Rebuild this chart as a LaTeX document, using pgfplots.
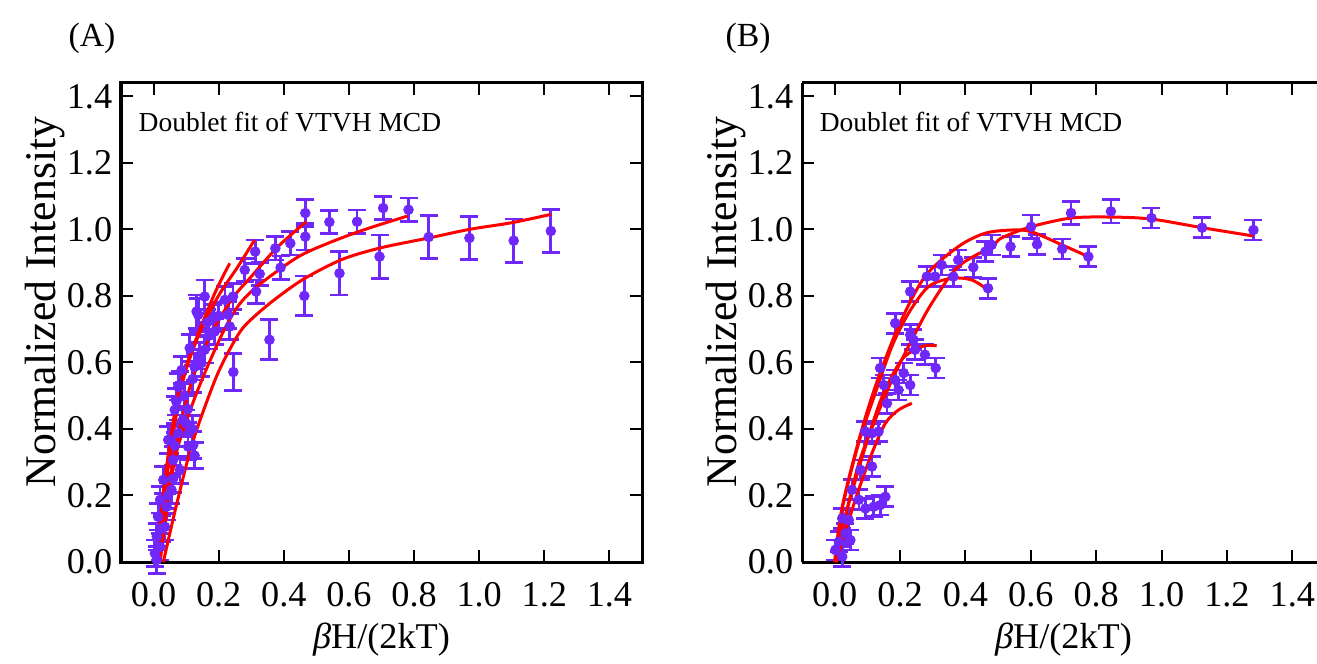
\documentclass[border=0pt]{standalone}
\usepackage{fontspec}
\setmainfont{Liberation Serif}
\usepackage{pgfplots}
\usepackage{pgfplotstable}
\pgfplotsset{compat=1.18}
\definecolor{ptscol}{RGB}{112,40,250}
\definecolor{fitred}{RGB}{255,0,0}

\pgfplotstableread{
x y e
0.466 1.049 0.040
0.466 0.978 0.040
0.540 1.022 0.035
0.625 1.023 0.035
0.705 1.064 0.035
0.783 1.059 0.035
0.845 0.977 0.065
0.970 0.974 0.065
1.106 0.966 0.065
1.220 0.995 0.065
0.694 0.918 0.065
0.571 0.868 0.065
0.463 0.800 0.060
0.374 0.943 0.035
0.420 0.958 0.035
0.390 0.885 0.035
0.312 0.933 0.035
0.326 0.866 0.035
0.315 0.813 0.035
0.280 0.878 0.035
0.356 0.668 0.060
0.245 0.571 0.055
0.244 0.798 0.040
0.219 0.788 0.040
0.157 0.798 0.050
0.137 0.743 0.050
0.132 0.753 0.050
0.183 0.733 0.040
0.229 0.743 0.040
0.234 0.708 0.040
0.188 0.693 0.040
0.111 0.643 0.040
0.157 0.638 0.040
0.147 0.598 0.040
0.086 0.577 0.040
0.126 0.587 0.040
0.081 0.532 0.040
0.076 0.527 0.040
0.070 0.482 0.040
0.065 0.457 0.040
0.090 0.427 0.040
0.100 0.417 0.040
0.076 0.387 0.040
0.050 0.367 0.040
0.045 0.367 0.040
0.106 0.347 0.040
0.122 0.352 0.040
0.060 0.307 0.040
0.081 0.277 0.040
0.030 0.247 0.040
0.055 0.217 0.040
0.020 0.187 0.040
0.040 0.166 0.040
0.014 0.136 0.040
0.035 0.106 0.040
0.010 0.076 0.040
0.020 0.046 0.040
0.004 0.026 0.040
0.010 0.006 0.040
0.095 0.500 0.040
0.120 0.550 0.040
0.170 0.680 0.040
0.200 0.740 0.040
0.165 0.720 0.040
0.105 0.460 0.040
0.140 0.620 0.040
0.060 0.250 0.040
0.025 0.100 0.040
0.045 0.200 0.040
0.065 0.350 0.040
0.126 0.320 0.040
0.120 0.400 0.040
}\ptsA

\pgfplotstableread{
x y e
0.538 0.948 0.030
0.601 1.008 0.035
0.619 0.955 0.030
0.696 0.941 0.030
0.723 1.049 0.035
0.776 0.918 0.030
0.845 1.054 0.035
0.969 1.034 0.030
1.124 1.005 0.030
1.281 0.998 0.030
0.480 0.953 0.030
0.461 0.933 0.030
0.469 0.823 0.030
0.424 0.886 0.030
0.378 0.908 0.030
0.363 0.858 0.030
0.327 0.893 0.030
0.307 0.858 0.030
0.282 0.858 0.030
0.231 0.813 0.030
0.185 0.718 0.030
0.231 0.683 0.030
0.241 0.668 0.030
0.246 0.638 0.030
0.276 0.623 0.030
0.309 0.583 0.030
0.139 0.583 0.030
0.150 0.532 0.030
0.185 0.547 0.030
0.211 0.568 0.030
0.231 0.532 0.030
0.195 0.517 0.030
0.160 0.477 0.030
0.094 0.392 0.030
0.114 0.387 0.030
0.134 0.392 0.030
0.114 0.287 0.030
0.079 0.277 0.030
0.053 0.217 0.030
0.074 0.187 0.030
0.094 0.161 0.030
0.119 0.166 0.030
0.139 0.171 0.030
0.155 0.196 0.030
0.023 0.131 0.030
0.043 0.126 0.030
0.033 0.086 0.030
0.013 0.061 0.030
0.048 0.066 0.030
0.002 0.036 0.030
0.023 0.016 0.030
}\ptsB

\pgfplotsset{
  panel/.style={
    scale only axis,
    anchor=south west,
    width=208.4pt, height=191.6pt,
    xmin=-0.1, xmax=1.5, ymin=0, ymax=1.44,
    xtick={0,0.2,...,1.4}, ytick={0,0.2,...,1.4},
    tick align=inside,
    major tick length=4.8pt,
    tick style={black, line width=0.8pt},
    axis line style={line width=1.2pt},
    xticklabel style={/pgf/number format/fixed, /pgf/number format/fixed zerofill, /pgf/number format/precision=1, /pgf/number format/assume math mode=true, yshift=-4.5pt},
    yticklabel style={/pgf/number format/fixed, /pgf/number format/fixed zerofill, /pgf/number format/precision=1, /pgf/number format/assume math mode=true},
    tick label style={font=\fontsize{14.5}{16}\selectfont},
    xlabel={\textit{β}H/(2kT)},
    ylabel={Normalized Intensity},
    xlabel style={font=\fontsize{14.5}{16}\selectfont, at={(axis description cs:0.5,-0.162)}, anchor=center},
    ylabel style={font=\fontsize{17.5}{19}\selectfont, at={(axis description cs:-0.146,0.543)}, anchor=center},
    clip=false,
  },
  datapts/.style={only marks, mark=*, mark size=1.9pt, color=ptscol,
    error bars/.cd, y dir=both, y explicit,
    error bar style={line width=1.1pt, color=ptscol},
    error mark options={rotate=90, mark size=3.6pt, line width=1.1pt, color=ptscol}},
  fitline/.style={color=fitred, line width=1.2pt, no marks, smooth},
}

\begin{document}
\begin{tikzpicture}[trim left=0pt, trim right=526.8pt]
\useasboundingbox (0,0) rectangle (526.8pt,265.2pt);
\clip (0,0) rectangle (526.8pt,265.2pt);
\node[font=\fontsize{13.5}{15}\selectfont] at (36.8pt,250pt) {(A)};
\node[font=\fontsize{13.5}{15}\selectfont] at (299.2pt,250pt) {(B)};

\begin{axis}[panel, at={(48.4pt,40.4pt)}]
\addplot[datapts] table[x=x, y=y, y error=e] {\ptsA};
\addplot[fitline] coordinates {(0.03,0.0) (0.07,0.17) (0.12,0.36) (0.19,0.55) (0.24,0.65) (0.28,0.71) (0.36,0.78) (0.46,0.85) (0.58,0.91) (0.70,0.945) (0.85,0.975) (0.97,1.0) (1.1,1.02) (1.22,1.045)};
\addplot[fitline] coordinates {(0.02,0.0) (0.05,0.22) (0.076,0.35) (0.137,0.52) (0.208,0.68) (0.26,0.77) (0.32,0.83) (0.44,0.915) (0.535,0.958) (0.65,1.0) (0.78,1.04)};
\addplot[fitline] coordinates {(0.015,0.0) (0.05,0.25) (0.106,0.507) (0.168,0.668) (0.239,0.788) (0.30,0.858) (0.382,0.948) (0.469,1.023)};
\addplot[fitline] coordinates {(0.012,0.0) (0.04,0.25) (0.086,0.527) (0.137,0.678) (0.198,0.798) (0.259,0.888) (0.31,0.968)};
\addplot[fitline] coordinates {(0.01,0.0) (0.035,0.25) (0.076,0.507) (0.126,0.658) (0.188,0.808) (0.234,0.898)};
\node[anchor=west, inner sep=0pt, font=\fontsize{11}{13}\selectfont] at (rel axis cs:0.033,0.918) {Doublet fit of VTVH MCD};
\end{axis}

\begin{axis}[panel, at={(320.8pt,40.4pt)}, width=209.2pt, axis y line*=left, axis x line*=box]
\addplot[datapts] table[x=x, y=y, y error=e] {\ptsB};
\addplot[fitline] coordinates {(0,0) (0.023,0.166) (0.074,0.367) (0.124,0.527) (0.195,0.708) (0.276,0.858) (0.378,0.948) (0.459,0.988) (0.54,0.998) (0.601,0.993) (0.696,0.953) (0.776,0.918)};
\addplot[fitline] coordinates {(0.005,0) (0.023,0.096) (0.074,0.297) (0.124,0.427) (0.175,0.547) (0.236,0.668) (0.297,0.778) (0.378,0.888) (0.48,0.948) (0.51,0.974) (0.601,1.008) (0.723,1.034) (0.845,1.037) (0.969,1.031) (1.124,1.005) (1.281,0.98)};
\addplot[fitline] coordinates {(0,0) (0.023,0.16) (0.074,0.36) (0.124,0.507) (0.175,0.648) (0.226,0.748) (0.287,0.828) (0.358,0.853) (0.419,0.848) (0.469,0.818)};
\addplot[fitline] coordinates {(0,0) (0.03,0.13) (0.094,0.347) (0.145,0.497) (0.205,0.608) (0.266,0.648) (0.312,0.65)};
\addplot[fitline] coordinates {(0.005,0) (0.063,0.187) (0.114,0.327) (0.155,0.417) (0.195,0.457) (0.236,0.477)};
\node[anchor=west, inner sep=0pt, font=\fontsize{11}{13}\selectfont] at (rel axis cs:0.033,0.918) {Doublet fit of VTVH MCD};
\end{axis}
\end{tikzpicture}
\end{document}
